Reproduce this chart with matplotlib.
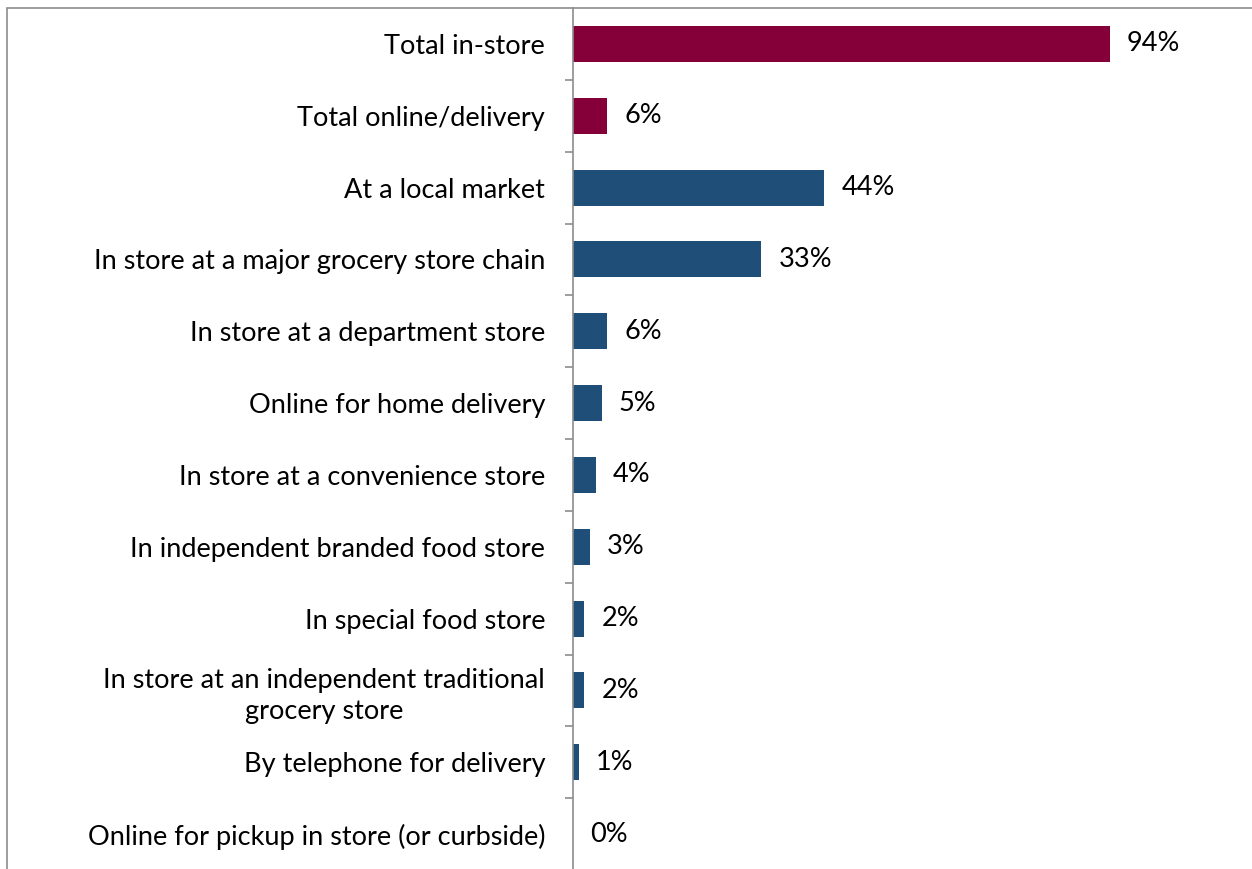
import matplotlib
matplotlib.use("Agg")
import matplotlib.pyplot as plt
from matplotlib.patches import Rectangle
import numpy as np

categories = [
    "Total in-store",
    "Total online/delivery",
    "At a local market",
    "In store at a major grocery store chain",
    "In store at a department store",
    "Online for home delivery",
    "In store at a convenience store",
    "In independent branded food store",
    "In special food store",
    "In store at an independent traditional\ngrocery store",
    "By telephone for delivery",
    "Online for pickup in store (or curbside)",
]
values = [94, 6, 44, 33, 6, 5, 4, 3, 2, 2, 1, 0]
labels = ["94%", "6%", "44%", "33%", "6%", "5%", "4%", "3%", "2%", "2%", "1%", "0%"]
maroon = "#850038"
blue = "#1F4E79"
colors = [maroon, maroon] + [blue] * 10

plt.rcParams['font.family'] = ['Lato', 'DejaVu Sans']
FS = 19.5

W, H = 1252, 869
fig = plt.figure(figsize=(W / 100, H / 100), dpi=100)

# outer frame
fig.patches.append(Rectangle((7 / W, -0.1), 1.2, (H - 8) / H + 0.1, transform=fig.transFigure,
                             fill=False, edgecolor="#8c8c8c", linewidth=1.2))

x0 = 573 / W
x1 = 1144 / W
y_top = 1 - 8 / H
y_bot = 1 - 870 / H
ax = fig.add_axes([x0, y_bot, x1 - x0, y_top - y_bot])

n = len(categories)
y = np.arange(n)
ax.barh(y, values, height=0.5, color=colors)
ax.set_ylim(n - 0.5, -0.5)
ax.set_xlim(0, 100)

for yi, v, lab in zip(y, values, labels):
    ax.text(v + 3.0, yi, lab, va="center", ha="left", fontsize=FS, color="black")

ax.set_yticks(y)
ax.set_yticklabels(categories, fontsize=FS, multialignment="center", linespacing=1.3)
ax.tick_params(axis="y", which="major", length=0, pad=20)
ax.set_yticks(np.arange(0.5, n - 0.5, 1), minor=True)
ax.tick_params(axis="y", which="minor", length=6, width=1.2, color="#8c8c8c")
ax.set_xticks([])
for s in ["top", "right", "bottom"]:
    ax.spines[s].set_visible(False)
ax.spines["left"].set_color("#8c8c8c")
ax.spines["left"].set_linewidth(1.2)

fig.savefig("out.png", dpi=100)
